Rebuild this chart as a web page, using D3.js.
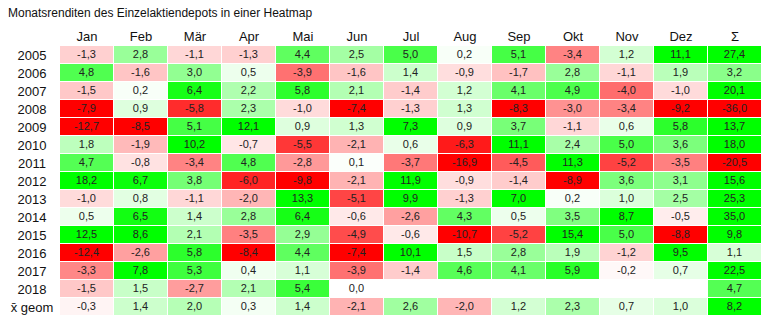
<!DOCTYPE html>
<html>
<head>
<meta charset="utf-8">
<script src="https://cdn.jsdelivr.net/npm/d3@7"></script>
<style>
  body { margin: 0; background: #fff; }
  text { font-family: "Liberation Sans", Helvetica, Arial, sans-serif; }
</style>
</head>
<body>
<div id="chart"></div>
<script>
// size
var chart_width = 766;
var chart_height = 321;

// data
var columns = ['Jan', 'Feb', 'Mär', 'Apr', 'Mai', 'Jun', 'Jul', 'Aug', 'Sep', 'Okt', 'Nov', 'Dez', 'Σ'];
var rows = ['2005', '2006', '2007', '2008', '2009', '2010', '2011', '2012', '2013', '2014', '2015', '2016', '2017', '2018', 'x̄ geom'];

var r2005 = [-1.3, 2.8, -1.1, -1.3, 4.4, 2.5, 5.0, 0.2, 5.1, -3.4, 1.2, 11.1, 27.4];
var r2006 = [4.8, -1.6, 3.0, 0.5, -3.9, -1.6, 1.4, -0.9, -1.7, 2.8, -1.1, 1.9, 3.2];
var r2007 = [-1.5, 0.2, 6.4, 2.2, 5.8, 2.1, -1.4, 1.2, 4.1, 4.9, -4.0, -1.0, 20.1];
var r2008 = [-7.9, 0.9, -5.8, 2.3, -1.0, -7.4, -1.3, 1.3, -8.3, -3.0, -3.4, -9.2, -36.0];
var r2009 = [-12.7, -8.5, 5.1, 12.1, 0.9, 1.3, 7.3, 0.9, 3.7, -1.1, 0.6, 5.8, 13.7];
var r2010 = [1.8, -1.9, 10.2, -0.7, -5.5, -2.1, 0.6, -6.3, 11.1, 2.4, 5.0, 3.6, 18.0];
var r2011 = [4.7, -0.8, -3.4, 4.8, -2.8, 0.1, -3.7, -16.9, -4.5, 11.3, -5.2, -3.5, -20.5];
var r2012 = [18.2, 6.7, 3.8, -6.0, -9.8, -2.1, 11.9, -0.9, -1.4, -8.9, 3.6, 3.1, 15.6];
var r2013 = [-1.0, 0.8, -1.1, -2.0, 13.3, -5.1, 9.9, -1.3, 7.0, 0.2, 1.0, 2.5, 25.3];
var r2014 = [0.5, 6.5, 1.4, 2.8, 6.4, -0.6, -2.6, 4.3, 0.5, 3.5, 8.7, -0.5, 35.0];
var r2015 = [12.5, 8.6, 2.1, -3.5, 2.9, -4.9, -0.6, -10.7, -5.2, 15.4, 5.0, -8.8, 9.8];
var r2016 = [-12.4, -2.6, 5.8, -8.4, 4.4, -7.4, 10.1, 1.5, 2.8, 1.9, -1.2, 9.5, 1.1];
var r2017 = [-3.3, 7.8, 5.3, 0.4, 1.1, -3.9, -1.4, 4.6, 4.1, 5.9, -0.2, 0.7, 22.5];
var r2018 = [-1.5, 1.5, -2.7, 2.1, 5.4, 0.0, null, null, null, null, null, null, 4.7];
var rGeom = [-0.3, 1.4, 2.0, 0.3, 1.4, -2.1, 2.6, -2.0, 1.2, 2.3, 0.7, 1.0, 8.2];

var values = [r2005, r2006, r2007, r2008, r2009, r2010, r2011, r2012, r2013, r2014, r2015, r2016, r2017, r2018, rGeom];

// flat list of cells
var cells = [];
values.forEach(function(row, i){
    row.forEach(function(v, j){
        cells.push({row: rows[i], col: columns[j], value: v});
    });
});

var color = d3.scaleLinear()
    .domain([-7, 0, 7])
    .range(['#ff0000', '#ffffff', '#00ff00'])
    .clamp(true);

var x = d3.scaleBand().domain(columns).range([60, 762]);
var y = d3.scaleBand().domain(rows).range([46, 316]);

var fmt = function(v){
    return d3.format('.1f')(v).replace('.', ',').replace('−', '-');
};

var svg = d3.select('#chart')
    .append('svg')
    .attr('width', chart_width)
    .attr('height', chart_height);

// title
svg.append('text')
    .attr('x', 8)
    .attr('y', 17)
    .attr('font-size', '12px')
    .style('fill', '#111')
    .text('Monatsrenditen des Einzelaktiendepots in einer Heatmap');

// column header
svg.selectAll('.col-label')
    .data(columns)
    .enter()
    .append('text')
    .attr('class', 'col-label')
    .attr('x', function(d){ return x(d) + x.bandwidth() / 2; })
    .attr('y', 41)
    .attr('text-anchor', 'middle')
    .attr('font-size', '13px')
    .style('fill', '#111')
    .text(function(d){ return d; });

// row labels
svg.selectAll('.row-label')
    .data(rows)
    .enter()
    .append('text')
    .attr('class', 'row-label')
    .attr('x', 32)
    .attr('y', function(d){ return y(d) + y.bandwidth() / 2; })
    .attr('dy', '0.35em')
    .attr('text-anchor', 'middle')
    .attr('font-size', '13px')
    .style('fill', '#111')
    .text(function(d){ return d; });

// cells
svg.selectAll('.cell')
    .data(cells)
    .enter()
    .append('rect')
    .attr('class', 'cell')
    .attr('x', function(d){ return x(d.col); })
    .attr('y', function(d){ return y(d.row); })
    .attr('width', x.bandwidth() - 1)
    .attr('height', y.bandwidth() - 1)
    .attr('fill', function(d){
        return d.value === null ? '#ffffff' : color(d.value);
    });

svg.selectAll('.cell-label')
    .data(cells.filter(function(d){ return d.value !== null; }))
    .enter()
    .append('text')
    .attr('class', 'cell-label')
    .attr('x', function(d){ return x(d.col) + (x.bandwidth() - 1) / 2; })
    .attr('y', function(d){ return y(d.row) + (y.bandwidth() - 1) / 2; })
    .attr('dy', '0.35em')
    .attr('text-anchor', 'middle')
    .attr('font-size', '11px')
    .style('fill', '#222')
    .text(function(d){ return fmt(d.value); });
</script>
</body>
</html>
